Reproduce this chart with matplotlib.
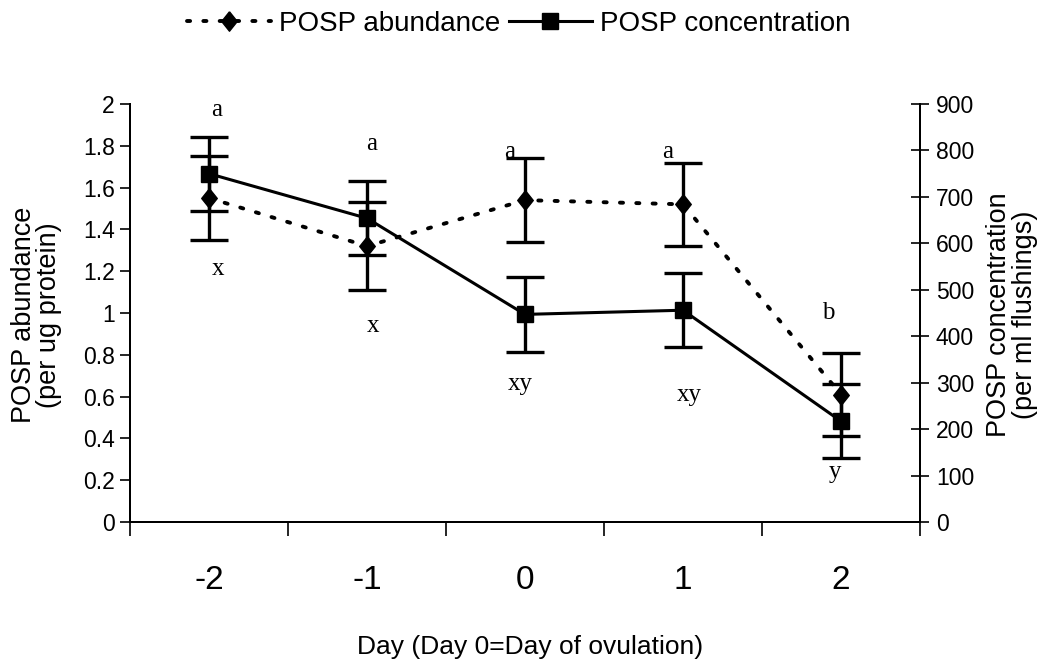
import numpy as np
import matplotlib
matplotlib.use('Agg')
import matplotlib.pyplot as plt
from matplotlib.lines import Line2D

plt.rcParams['font.family'] = ['Liberation Sans', 'DejaVu Sans']

# 数据
days = ['-2', '-1', '0', '1', '2']
abundance = [1.55, 1.32, 1.54, 1.52, 0.61]
abundance_se = [0.20, 0.21, 0.20, 0.20, 0.20]
concentration = [750, 654, 447, 456, 217]
concentration_se = [80, 80, 80, 80, 80]
letters_top = ['a', 'a', 'a', 'a', 'b']
letters_top_y = [1.97, 1.81, 1.77, 1.77, 1.00]
letters_bottom = ['x', 'x', 'xy', 'xy', 'y']
letters_bottom_y = [1.21, 0.94, 0.66, 0.61, 0.24]

W, H = 1047, 664
fig = plt.figure(figsize=(W / 100, H / 100), dpi=100)
ax1 = fig.add_axes([130 / W, 1 - 522 / H, 790 / W, 418 / H])
ax2 = ax1.twinx()

x = np.arange(len(days))
dots = (0, (0.8, 3.4))
diamond = [(0, 1), (0.8, 0), (0, -1), (-0.8, 0), (0, 1)]

eb1 = ax1.errorbar(x, abundance, yerr=abundance_se, color='black', ls=dots, lw=2.8,
                   marker=diamond, ms=14, capsize=14, capthick=2.4, elinewidth=2.4, zorder=3)
eb1[0].set_dash_capstyle('round')
ax2.errorbar(x, concentration, yerr=concentration_se, color='black', ls='-', lw=2.2,
             marker='s', ms=12, capsize=14, capthick=2.4, elinewidth=2.4, zorder=3)

ax1.set_xlim(-0.5, 4.5)
ax1.set_ylim(0, 2)
ax2.set_ylim(0, 900)

ax1.set_yticks(np.arange(0, 2.01, 0.2))
ax1.set_yticklabels(['0', '0.2', '0.4', '0.6', '0.8', '1', '1.2', '1.4', '1.6', '1.8', '2'])
ax2.set_yticks(np.arange(0, 901, 100))

# x 轴刻度在类别边界，标签在中心
ax1.set_xticks(np.arange(-0.5, 4.6, 1))
ax1.set_xticklabels([])
ax1.set_xticks(x, minor=True)
ax1.set_xticklabels(days, minor=True, fontsize=24)
ax1.tick_params(axis='x', which='major', direction='out', length=10, width=1.2)
ax1.tick_params(axis='x', which='minor', length=0, pad=31)
ax1.tick_params(axis='y', direction='out', length=7, width=1.2, labelsize=16.5, pad=4)
ax2.tick_params(axis='y', direction='inout', length=13, width=1.2, labelsize=16.5, pad=5)

for ax in (ax1, ax2):
    ax.spines['top'].set_visible(False)
    for s in ('left', 'right', 'bottom'):
        ax.spines[s].set_linewidth(1.4)

fig.text(37 / W, 1 - 315 / H, 'POSP abundance\n(per ug protein)', rotation=90,
         ha='center', va='center', fontsize=19.5, linespacing=0.95)
fig.text(1012 / W, 1 - 315 / H, 'POSP concentration\n(per ml flushings)', rotation=90,
         ha='center', va='center', fontsize=19.5, linespacing=0.95)
fig.text(530 / W, 1 - 647 / H, 'Day (Day 0=Day of ovulation)', ha='center', va='center',
         fontsize=19)

# 显著性字母
top_dx = [0.05, 0.03, -0.095, -0.10, -0.08]
bottom_dx = [0.06, 0.04, -0.03, 0.04, -0.04]
for i in range(len(days)):
    ax1.text(x[i] + top_dx[i], letters_top_y[i], letters_top[i], ha='center', va='center',
             fontsize=18, family='Liberation Serif')
    ax1.text(x[i] + bottom_dx[i], letters_bottom_y[i], letters_bottom[i], ha='center', va='center',
             fontsize=18, family='Liberation Serif')

h1 = Line2D([], [], color='black', ls=dots, lw=2.8, marker=diamond, ms=14)
h1.set_dash_capstyle('round')
h2 = Line2D([], [], color='black', ls='-', lw=2.2, marker='s', ms=12)
fig.legend([h1, h2], ['POSP abundance', 'POSP concentration'], loc='center',
           bbox_to_anchor=(519 / W, 1 - 24 / H), ncol=2, frameon=False, handlelength=3.0,
           columnspacing=0.3, handletextpad=0.3, prop={'size': 20})

fig.savefig('out.png', dpi=100)
